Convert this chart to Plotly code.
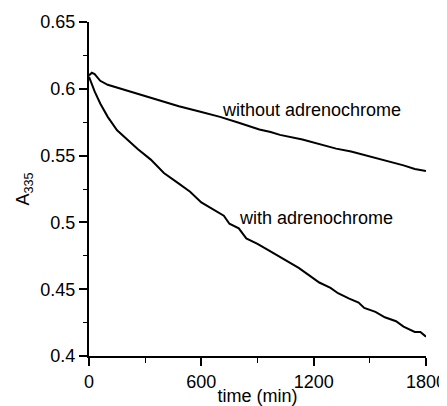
import plotly.graph_objects as go

# Data
t_with = [0, 30, 60, 100, 150, 200, 260, 330, 400, 480, 540, 600, 660, 720, 750, 800,
          840, 900, 960, 1020, 1080, 1120, 1180, 1230, 1290, 1330, 1390, 1440, 1470,
          1530, 1580, 1640, 1680, 1740, 1770, 1800]
a_with = [0.609, 0.598, 0.589, 0.579, 0.569, 0.5625, 0.555, 0.547, 0.537, 0.529, 0.523,
          0.515, 0.510, 0.505, 0.499, 0.4955, 0.488, 0.484, 0.479, 0.474, 0.469, 0.466,
          0.460, 0.455, 0.451, 0.447, 0.443, 0.440, 0.436, 0.433, 0.429, 0.426, 0.422,
          0.418, 0.418, 0.4145]

t_without = [0, 15, 30, 60, 100, 170, 240, 300, 380, 480, 590, 700, 800, 910, 970, 1020,
             1140, 1230, 1320, 1400, 1500, 1600, 1680, 1740, 1800]
a_without = [0.610, 0.612, 0.611, 0.606, 0.603, 0.600, 0.597, 0.595, 0.591, 0.587, 0.583,
             0.579, 0.5746, 0.5696, 0.5677, 0.5655, 0.562, 0.5585, 0.5552, 0.553, 0.5495,
             0.546, 0.5427, 0.540, 0.5385]

x_ticks = [0, 600, 1200, 1800]
y_ticks = [0.4, 0.45, 0.5, 0.55, 0.6, 0.65]
labels = ["without adrenochrome", "with adrenochrome"]
label_pos = [(1191, 0.5839), (1212, 0.503)]

FONT = "Liberation Sans, Arial, Helvetica, sans-serif"
FS = 18

fig = go.Figure()
fig.add_trace(go.Scatter(x=t_without, y=a_without, mode="lines",
                         line=dict(color="black", width=2), showlegend=False))
fig.add_trace(go.Scatter(x=t_with, y=a_with, mode="lines",
                         line=dict(color="black", width=2), showlegend=False))

for txt, (x, y) in zip(labels, label_pos):
    fig.add_annotation(x=x, y=y, text=txt, showarrow=False,
                       font=dict(size=FS, color="black", family=FONT))

fig.update_layout(
    width=439, height=398,
    margin=dict(l=81, r=21, t=14, b=50),
    paper_bgcolor="white", plot_bgcolor="white",
    font=dict(family=FONT, size=FS, color="black"),
    xaxis=dict(range=[0, 1800], tickvals=x_ticks, ticktext=[str(v) for v in x_ticks],
               automargin=False,
               showgrid=False, zeroline=False, showline=True, linecolor="black",
               linewidth=2, ticks="outside", ticklen=8, tickwidth=1.5, tickcolor="black",
               tickfont=dict(size=FS),
               minor=dict(tickvals=[300, 900, 1500], ticks="outside", ticklen=5,
                          tickwidth=1, tickcolor="black"),
               title=dict(text="time (min)", standoff=0, font=dict(size=FS))),
    yaxis=dict(range=[0.4, 0.65], tickvals=y_ticks, ticktext=[f"{v:g}" for v in y_ticks],
               automargin=False,
               showgrid=False, zeroline=False, showline=True, linecolor="black",
               linewidth=2, ticks="outside", ticklen=8, tickwidth=1.5, tickcolor="black",
               tickfont=dict(size=FS),
               minor=dict(tickvals=[0.425, 0.475, 0.525, 0.575, 0.625], ticks="outside",
                          ticklen=4, tickwidth=1, tickcolor="black"),
               title=dict(text="A<sub>335</sub>", standoff=6, font=dict(size=FS))),
)

fig.write_html("out.html")
